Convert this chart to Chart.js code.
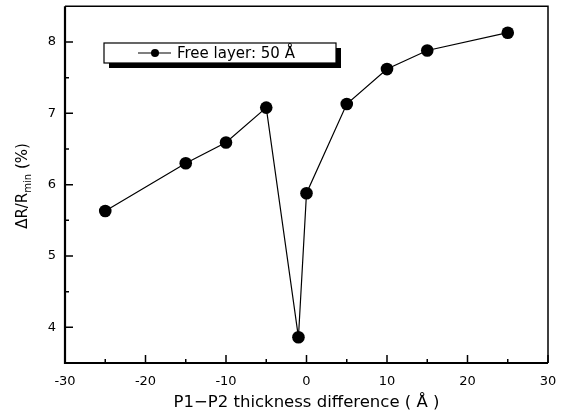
<!DOCTYPE html>
<html lang="en">
<head>
  <meta charset="UTF-8">
  <title>Free layer: 50 Å</title>
  <style>
    body {
      margin: 0;
      background-color: #ffffff;
    }
    #wrap {
      width: 561px;
      height: 417px;
    }
  </style>
  <script src="https://cdn.jsdelivr.net/npm/chart.js"></script>
</head>
<body>
  <div id="wrap">
    <canvas id="mrChart" width="561" height="417"></canvas>
  </div>

  <script>
    // data
    const thicknessDiff = [-25, -15, -10, -5, -1, 0, 5, 10, 15, 25];
    const mrRatio = [5.63, 6.30, 6.59, 7.08, 3.86, 5.88, 7.13, 7.62, 7.88, 8.13];
    const xTicks = [-30, -20, -10, 0, 10, 20, 30];
    const xMinor = [-25, -15, -5, 5, 15, 25];
    const yTicks = [4, 5, 6, 7, 8];
    const yMinor = [4.5, 5.5, 6.5, 7.5];
    const seriesLabel = 'Free layer: 50 Å';

    const FONT = '"DejaVu Sans", sans-serif';

    // frame, inward ticks, axis titles and the boxed legend
    const framePlugin = {
      id: 'frame',
      afterDraw(chart) {
        const ctx = chart.ctx;
        const a = chart.chartArea;
        const xs = chart.scales.x;
        const ys = chart.scales.y;
        ctx.save();
        ctx.strokeStyle = '#000';

        // box
        ctx.lineWidth = 1.5;
        ctx.beginPath();
        ctx.moveTo(a.left, a.top);
        ctx.lineTo(a.right, a.top);
        ctx.lineTo(a.right, a.bottom);
        ctx.stroke();
        ctx.lineWidth = 2.2;
        ctx.beginPath();
        ctx.moveTo(a.left, a.top);
        ctx.lineTo(a.left, a.bottom);
        ctx.lineTo(a.right, a.bottom);
        ctx.stroke();

        // ticks pointing inwards
        ctx.lineWidth = 1.5;
        ctx.beginPath();
        xTicks.forEach(v => {
          const px = xs.getPixelForValue(v);
          ctx.moveTo(px, a.bottom); ctx.lineTo(px, a.bottom - 8);
        });
        xMinor.forEach(v => {
          const px = xs.getPixelForValue(v);
          ctx.moveTo(px, a.bottom); ctx.lineTo(px, a.bottom - 4);
        });
        yTicks.forEach(v => {
          const py = ys.getPixelForValue(v);
          ctx.moveTo(a.left, py); ctx.lineTo(a.left + 8, py);
        });
        yMinor.forEach(v => {
          const py = ys.getPixelForValue(v);
          ctx.moveTo(a.left, py); ctx.lineTo(a.left + 4, py);
        });
        ctx.stroke();

        // x title
        ctx.fillStyle = '#000';
        ctx.font = '16.5px ' + FONT;
        ctx.textAlign = 'center';
        ctx.textBaseline = 'middle';
        ctx.fillText('P1\u2212P2 thickness difference ( Å )', (a.left + a.right) / 2, 403);

        // y title with subscript
        ctx.save();
        ctx.translate(23, 186);
        ctx.rotate(-Math.PI / 2);
        const p1 = 'ΔR/R', p2 = 'min', p3 = ' (%)';
        ctx.font = '15px ' + FONT;
        const w1 = ctx.measureText(p1).width;
        const w3 = ctx.measureText(p3).width;
        ctx.font = '10px ' + FONT;
        const w2 = ctx.measureText(p2).width;
        let tx = -(w1 + w2 + w3) / 2;
        ctx.textAlign = 'left';
        ctx.font = '15px ' + FONT;
        ctx.fillText(p1, tx, 0);
        tx += w1;
        ctx.font = '10px ' + FONT;
        ctx.fillText(p2, tx, 5);
        tx += w2;
        ctx.font = '15px ' + FONT;
        ctx.fillText(p3, tx, 0);
        ctx.restore();

        // legend box with drop shadow
        const bx = 104, by = 43, bw = 232, bh = 20;
        ctx.fillStyle = '#000';
        ctx.fillRect(bx + 5, by + 5, bw, bh);
        ctx.fillStyle = '#fff';
        ctx.fillRect(bx, by, bw, bh);
        ctx.lineWidth = 1.2;
        ctx.strokeRect(bx, by, bw, bh);
        const cy = by + bh / 2;
        ctx.lineWidth = 1.2;
        ctx.beginPath();
        ctx.moveTo(138, cy); ctx.lineTo(171, cy);
        ctx.stroke();
        ctx.fillStyle = '#000';
        ctx.beginPath();
        ctx.arc(155, cy, 4, 0, Math.PI * 2);
        ctx.fill();
        ctx.font = '15px ' + FONT;
        ctx.textAlign = 'left';
        ctx.fillText(seriesLabel, 177, cy + 1);

        ctx.restore();
      }
    };

    const ctx = document.getElementById('mrChart').getContext('2d');
    window.mrChart = new Chart(ctx, {
      type: 'scatter',
      data: {
        datasets: [{
          label: seriesLabel,
          data: thicknessDiff.map((x, i) => ({ x: x, y: mrRatio[i] })),
          showLine: true,
          borderColor: '#000',
          borderWidth: 1.2,
          backgroundColor: '#000',
          pointRadius: 6.3,
          pointBorderWidth: 0,
          tension: 0
        }]
      },
      options: {
        responsive: false,
        animation: false,
        layout: { padding: { top: 6, right: 13, left: 0, bottom: 0 } },
        plugins: {
          legend: { display: false },
          tooltip: { enabled: false }
        },
        scales: {
          x: {
            type: 'linear',
            min: -30,
            max: 30,
            afterFit: s => {
              s.height = 54;
              s.paddingLeft = 0;
              s.paddingRight = 0;
            },
            afterBuildTicks: s => { s.ticks = xTicks.map(v => ({ value: v })); },
            grid: { display: false, drawTicks: false },
            border: { display: false },
            ticks: {
              color: '#000',
              padding: 11,
              maxRotation: 0,
              font: { family: FONT, size: 13 }
            }
          },
          y: {
            type: 'linear',
            min: 3.5,
            max: 8.5,
            afterFit: s => {
              s.width = 65;
              s.paddingTop = 0;
              s.paddingBottom = 0;
            },
            afterBuildTicks: s => { s.ticks = yTicks.map(v => ({ value: v })); },
            grid: { display: false, drawTicks: false },
            border: { display: false },
            ticks: {
              color: '#000',
              padding: 9,
              font: { family: FONT, size: 13 }
            }
          }
        }
      },
      plugins: [framePlugin]
    });
  </script>
</body>
</html>
